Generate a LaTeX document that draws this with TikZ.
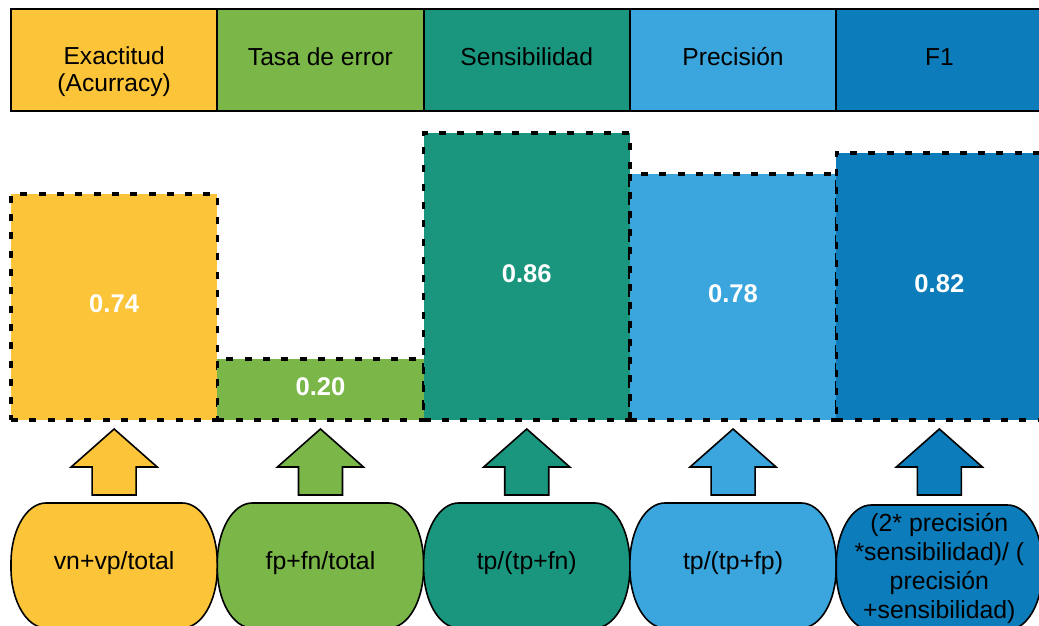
\documentclass[tikz,border=0pt]{standalone}
\usepackage{fontspec}
\setmainfont{Liberation Sans}
\usetikzlibrary{positioning}

\definecolor{lucidyellow}{HTML}{FCC438}
\definecolor{lucidgreen}{HTML}{7AB648}
\definecolor{lucidteal}{HTML}{19967D}
\definecolor{lucidsky}{HTML}{3AA6DD}
\definecolor{lucidblue}{HTML}{0C7CBA}

\begin{document}
\begin{tikzpicture}[x=1pt, y=1pt,
  headbox/.style={draw=black, line width=1.8pt, outer sep=0pt, inner sep=0pt,
    minimum width=206.3pt, minimum height=102pt,
    font=\fontsize{24.6}{27}\selectfont, text height=17pt, text depth=5pt},
  bar/.style={draw=black, line width=3.4pt, dash pattern=on 7pt off 11.3pt,
    outer sep=0pt, minimum width=206.3pt, anchor=south west,
    text=white, font=\fontsize{25.6}{28}\selectfont\bfseries,
    text height=18pt, text depth=6pt},
  formbox/.style={draw=black, line width=1.6pt, x radius=35pt, y radius=60pt},
  formtext/.style={font=\fontsize{24.8}{29}\selectfont, align=center},
  oneline/.style={text height=17pt, text depth=5pt},
  uparrow/.style={draw=black, line width=1.6pt}]
  \useasboundingbox (0,0) rectangle (1039,626);

  % Header row
  \node[headbox, fill=lucidyellow, anchor=north west] (h1) at (11,617) {};
  \node[headbox, fill=lucidgreen, right=0pt of h1] (h2) {Tasa de error};
  \node[headbox, fill=lucidteal, right=0pt of h2] (h3) {Sensibilidad};
  \node[headbox, fill=lucidsky, right=0pt of h3] (h4) {Precisión};
  \node[headbox, fill=lucidblue, right=0pt of h4] (h5) {F1};
  \node[formtext, font=\fontsize{24.6}{27}\selectfont] (h1text) at ([yshift=-12pt]h1.center) {Exactitud\\(Acurracy)};

  % Bars with the values
  \node[bar, fill=lucidyellow, minimum height=226pt] (b1) at (11,206) {0.74};
  \node[bar, fill=lucidgreen, minimum height=61pt] (b2) at (217.3,206) {0.20};
  \node[bar, fill=lucidteal, minimum height=287pt] (b3) at (423.6,206) {0.86};
  \node[bar, fill=lucidsky, minimum height=246pt] (b4) at (629.9,206) {0.78};
  \node[bar, fill=lucidblue, minimum height=267pt] (b5) at (836.2,206) {0.82};

  % Up arrows
  \draw[uparrow, fill=lucidyellow] (92.15,131) -- ++(0,28) -- ++(-21,0) -- ++(43,38) -- ++(43,-38) -- ++(-21,0) -- ++(0,-28) -- cycle;
  \draw[uparrow, fill=lucidgreen] (298.45,131) -- ++(0,28) -- ++(-21,0) -- ++(43,38) -- ++(43,-38) -- ++(-21,0) -- ++(0,-28) -- cycle;
  \draw[uparrow, fill=lucidteal] (504.75,131) -- ++(0,28) -- ++(-21,0) -- ++(43,38) -- ++(43,-38) -- ++(-21,0) -- ++(0,-28) -- cycle;
  \draw[uparrow, fill=lucidsky] (711.05,131) -- ++(0,28) -- ++(-21,0) -- ++(43,38) -- ++(43,-38) -- ++(-21,0) -- ++(0,-28) -- cycle;
  \draw[uparrow, fill=lucidblue] (917.35,131) -- ++(0,28) -- ++(-21,0) -- ++(43,38) -- ++(43,-38) -- ++(-21,0) -- ++(0,-28) -- cycle;

  % Formula boxes
  \draw[formbox, fill=lucidyellow] (46,123) -- ++(136.3,0) arc[start angle=90, end angle=0] -- ++(0,-5) arc[start angle=0, end angle=-90] -- ++(-136.3,0) arc[start angle=-90, end angle=-180] -- ++(0,5) arc[start angle=180, end angle=90] -- cycle;
  \draw[formbox, fill=lucidgreen] (252.3,123) -- ++(136.3,0) arc[start angle=90, end angle=0] -- ++(0,-5) arc[start angle=0, end angle=-90] -- ++(-136.3,0) arc[start angle=-90, end angle=-180] -- ++(0,5) arc[start angle=180, end angle=90] -- cycle;
  \draw[formbox, fill=lucidteal] (458.6,123) -- ++(136.3,0) arc[start angle=90, end angle=0] -- ++(0,-5) arc[start angle=0, end angle=-90] -- ++(-136.3,0) arc[start angle=-90, end angle=-180] -- ++(0,5) arc[start angle=180, end angle=90] -- cycle;
  \draw[formbox, fill=lucidsky] (664.9,123) -- ++(136.3,0) arc[start angle=90, end angle=0] -- ++(0,-5) arc[start angle=0, end angle=-90] -- ++(-136.3,0) arc[start angle=-90, end angle=-180] -- ++(0,5) arc[start angle=180, end angle=90] -- cycle;
  \draw[formbox, fill=lucidblue] (871.2,121) -- ++(136.3,0) arc[start angle=90, end angle=0] -- ++(0,-5) arc[start angle=0, end angle=-90] -- ++(-136.3,0) arc[start angle=-90, end angle=-180] -- ++(0,5) arc[start angle=180, end angle=90] -- cycle;

  \node[formtext, oneline] (f1) at (114.15,62) {vn+vp/total};
  \node[formtext, oneline] (f2) at (320.45,62) {fp+fn/total};
  \node[formtext, oneline] (f3) at (526.75,62) {tp/(tp+fn)};
  \node[formtext, oneline] (f4) at (733.05,62) {tp/(tp+fp)};
  \node[formtext] (f5) at (939.35,58) {(2* precisión\\*sensibilidad)/ (\\precisión\\+sensibilidad)};
\end{tikzpicture}
\end{document}
